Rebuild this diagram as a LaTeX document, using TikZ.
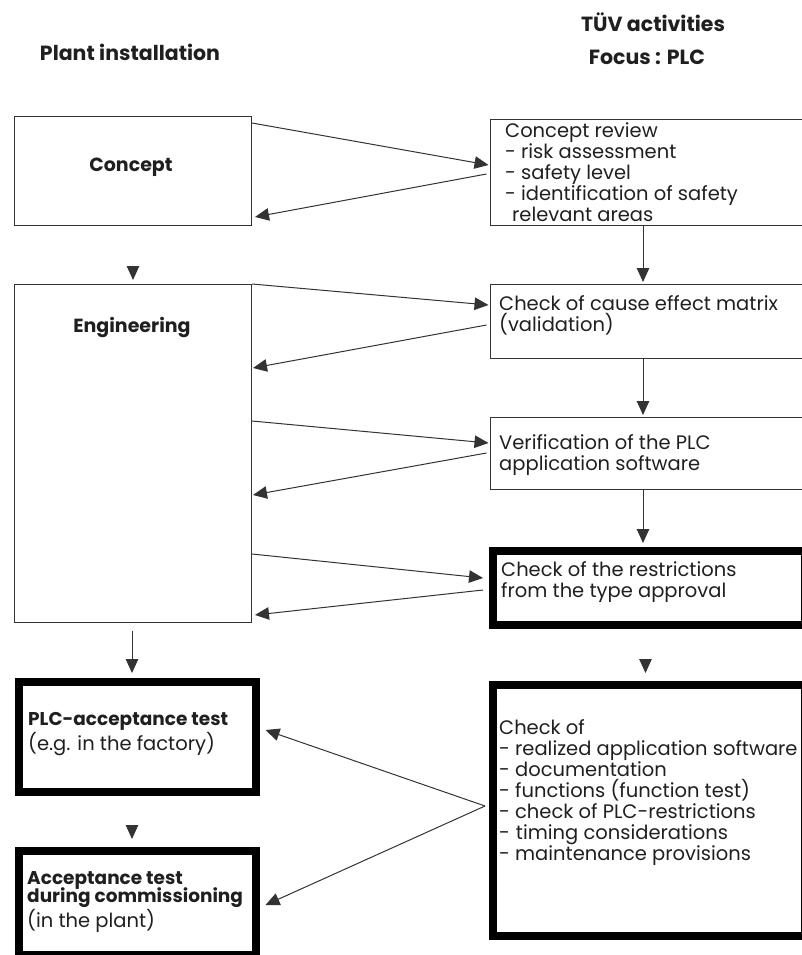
\documentclass[tikz,border=0pt]{standalone}
\usepackage{fontspec}
\setmainfont{Poppins}
\usetikzlibrary{arrows.meta,calc}
\newcommand{\boxbold}[1]{{\fontsize{18.5}{18}\selectfont\bfseries #1}}
\begin{document}
\begin{tikzpicture}[x=1pt,y=-1pt,
  thinbox/.style={draw=black!80, line width=1pt, inner sep=0pt, anchor=north west},
  thickbox/.style={draw=black, line width=7.5pt, inner sep=0pt, anchor=north west},
  conn/.style={draw=black!80, line width=1pt, -{Triangle[length=14pt,width=12.5pt]}},
  txt/.style={font=\fontsize{19.5}{21}\selectfont, align=left, inner sep=0pt, text=black!88},
  btxt/.style={font=\fontsize{19}{21}\selectfont\bfseries, align=center, inner sep=0pt, text=black!88},
  htxt/.style={font=\fontsize{20.5}{22}\selectfont\bfseries, align=center, inner sep=0pt, text=black!88}
]
\useasboundingbox (0,0) rectangle (802,955);

% headers
\node[htxt] (hplant) at (130,52) {Plant installation};
\node[htxt] (htuv) at (653,22) {TÜV activities};
\node[htxt] (hfocus) at (647,57) {Focus : PLC};

% left boxes
\node[thinbox, minimum width=237pt, minimum height=109pt] (concept) at (14,116) {};
\node[thinbox, minimum width=237pt, minimum height=338pt] (eng) at (14,284) {};
\node[thickbox, minimum width=237pt, minimum height=110pt] (plc) at (15,678) {};
\node[thickbox, minimum width=237pt, minimum height=104pt] (acc) at (15,847) {};

% right boxes
\node[thinbox, minimum width=313.5pt, minimum height=106pt] (review) at (489.5,119) {};
\node[thinbox, minimum width=313.5pt, minimum height=74pt] (cause) at (489.5,284) {};
\node[thinbox, minimum width=313.5pt, minimum height=72pt] (verif) at (489.5,417) {};
\node[thickbox, minimum width=312pt, minimum height=74pt] (restr) at (489,547) {};
\node[thickbox, minimum width=312pt, minimum height=251pt] (checkof) at (489,681) {};

% texts
\node[btxt] (tconcept) at (131,167) {Concept};
\node[btxt] (teng) at (132,327) {Engineering};
\node[txt, anchor=west] (treview) at (505,172) {Concept review\\- risk assessment\\- safety level\\- identification of safety\\\hspace*{7pt}relevant areas};
\node[txt, anchor=west] (tcause) at (499,315) {Check of cause effect matrix\\(validation)};
\node[txt, anchor=west] (tverif) at (499,455) {Verification of the PLC\\application software};
\node[txt, anchor=west] (trestr) at (501,582) {Check of the restrictions\\from the type approval};
\node[txt, anchor=west] (tplc) at (28,734) {\boxbold{PLC-acceptance test}\\(e.g. in the factory)};
\node[txt, anchor=west] (tacc) at (27,902) {\boxbold{Acceptance test}\\[-3pt]\boxbold{during commissioning}\\(in the plant)};
\node[txt, anchor=west] (tcheck) at (499,793) {Check of\\- realized application software\\- documentation\\- functions (function test)\\- check of PLC-restrictions\\-\hspace*{6pt}timing considerations\\- maintenance provisions};

% connectors
\draw[conn] ($(concept.north east)+(0,7)$) -- ($(review.north west)+(-1,46)$);
\draw[conn] ($(review.north west)+(-3,55)$) -- ($(concept.north east)+(3,101)$);
\draw[conn] ($(eng.north)+(0,-18)$) -- ($(eng.north)+(0,-4)$);
\draw[conn] ($(review.south west)+(153.5,0)$) -- ($(cause.north west)+(153.5,-2)$);
\draw[conn] (eng.north east) -- ($(cause.north west)+(-1,21)$);
\draw[conn] ($(cause.north west)+(-3,41)$) -- ($(eng.north east)+(1,84)$);
\draw[conn] ($(cause.south west)+(153.5,0)$) -- ($(verif.north west)+(153.5,-2)$);
\draw[conn] ($(eng.north east)+(0,137)$) -- ($(verif.north west)+(-1,26)$);
\draw[conn] ($(verif.north west)+(-3,36)$) -- ($(eng.north east)+(1,211)$);
\draw[conn] ($(verif.south west)+(153.5,0)$) -- ($(restr.north west)+(154,-4)$);
\draw[conn] ($(eng.north east)+(0,270)$) -- ($(restr.north west)+(-6,31)$);
\draw[conn] ($(restr.north west)+(-6,43)$) -- ($(eng.north east)+(3,331)$);
\draw[conn] ($(eng.south west)+(118,8)$) -- ($(plc.north west)+(117,-5)$);
\draw[conn] ($(acc.north west)+(117,-22)$) -- ($(acc.north west)+(117,-8)$);
\draw[conn] ($(checkof.north west)+(156.5,-22)$) -- ($(checkof.north west)+(156.5,-8)$);
\coordinate (cstart) at ($(checkof.north west)+(-4,125)$);
\draw[conn] (cstart) -- ($(plc.north east)+(6,52)$);
\draw[conn] (cstart) -- ($(acc.north east)+(6,58)$);
\end{tikzpicture}
\end{document}
